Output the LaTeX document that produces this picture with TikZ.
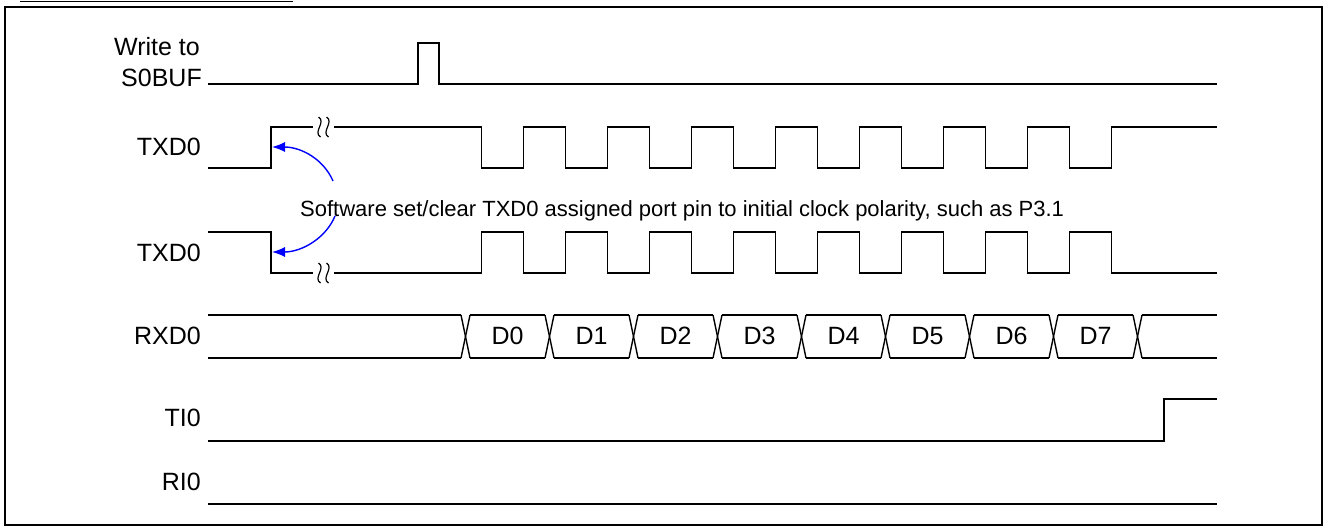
\documentclass[tikz,border=0pt]{standalone}
\usepackage{fontspec}
\setmainfont{Liberation Sans}
\usetikzlibrary{arrows.meta}
\begin{document}
\begin{tikzpicture}[x=1pt,y=-1pt,
  sig/.style={line width=1.4pt, line join=miter},
  frm/.style={line width=2pt},
  lbl/.style={anchor=east, inner sep=0pt, font=\fontsize{25}{30}\selectfont},
  dlbl/.style={inner sep=0pt, font=\fontsize{25}{30}\selectfont},
  note/.style={inner sep=0pt, font=\fontsize{22}{26}\selectfont},
  blu/.style={draw={rgb,255:red,0;green,0;blue,255}, line width=1.4pt,
    -{Latex[length=13pt,width=10pt]}, fill=none},
  squig/.style={line width=1.2pt}
]
\useasboundingbox (0,0) rectangle (1325,527);
% frame and cut-off title underline
\draw[frm] (5,7) rectangle (1322,525);
\draw[line width=1.2pt] (20,1.5) -- (293,1.5);

% labels
\node[lbl] (lw1) at (200,47) {Write to};
\node[lbl] (lw2) at (202,78) {S0BUF};
\node[lbl] (ltx1) at (201,147) {TXD0};
\node[lbl] (ltx2) at (201,253) {TXD0};
\node[lbl] (lrx) at (201,336) {RXD0};
\node[lbl] (lti) at (201,418) {TI0};
\node[lbl] (lri) at (201,482) {RI0};

% Write to S0BUF
\draw[sig] (208,84) -- (418,84) -- (418,43) -- (439,43) -- (439,84) -- (1217,84);

% TXD0 (1)
\draw[sig] (208,168) -- (271,168) -- (271,127) -- (313,127);
\draw[sig] (334,127) -- (481.5,127)
  \foreach \k in {0,...,7} {
    -- ++(0,41) -- ++(42,0) -- ++(0,-41) -- ++(42,0)
  } -- (1217,127);
\foreach \x in {319.5,327.5} {
  \draw[squig] (\x-1,117) .. controls (\x+7,122) and (\x-7,132) .. (\x+1,137);
}

% TXD0 (2)
\draw[sig] (208,232) -- (271,232) -- (271,273) -- (313,273);
\draw[sig] (334,273) -- (481.5,273)
  \foreach \k in {0,...,7} {
    -- ++(0,-41) -- ++(42,0) -- ++(0,41) -- ++(42,0)
  } -- (1217,273);
\foreach \x in {319.5,327.5} {
  \draw[squig] (\x-1,263) .. controls (\x+7,268) and (\x-7,278) .. (\x+1,283);
}

% RXD0
\draw[sig] (208,315) -- (461,315);
\draw[sig] (208,358) -- (461,358);
\foreach \k in {0,...,8} {
  \pgfmathsetmacro{\c}{465.5+84*\k}
  \draw[sig] (\c-4.5,315) -- (\c+4.5,358);
  \draw[sig] (\c-4.5,358) -- (\c+4.5,315);
}
\foreach \k in {0,...,7} {
  \pgfmathsetmacro{\a}{465.5+84*\k+4.5}
  \pgfmathsetmacro{\b}{465.5+84*(\k+1)-4.5}
  \draw[sig] (\a,315) -- (\b,315);
  \draw[sig] (\a,358) -- (\b,358);
  \pgfmathsetmacro{\m}{507.5+84*\k}
  \node[dlbl] (d\k) at (\m,336) {D\k};
}
\draw[sig] (1142,315) -- (1217,315);
\draw[sig] (1142,358) -- (1217,358);

% TI0 and RI0
\draw[sig] (208,441) -- (1164,441) -- (1164,399) -- (1217,399);
\draw[sig] (208,504) -- (1217,504);

% annotation and blue arrows
\node[note, anchor=west] (note) at (300,211) {Software set/clear TXD0 assigned port pin to initial clock polarity, such as P3.1};
\coordinate (a1s) at (333,181);
\coordinate (a1e) at (272,147);
\coordinate (a2s) at (335,216);
\coordinate (a2e) at (272,252);
\draw[blu] (a1s) .. controls (324,160) and (302,147) .. (a1e);
\draw[blu] (a2s) .. controls (326,238) and (302,252) .. (a2e);
\end{tikzpicture}
\end{document}
